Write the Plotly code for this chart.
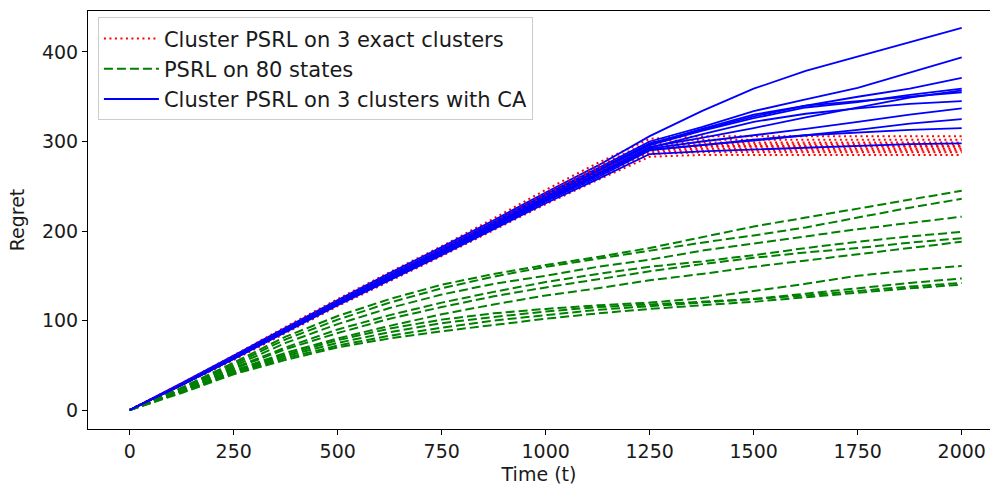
import plotly.graph_objects as go

# time grid (t)
t_grid = [0, 125, 250, 375, 500, 625, 750, 875, 1000, 1125, 1250,
          1375, 1500, 1625, 1750, 1875, 2000]

# Cluster PSRL on 3 exact clusters (red, dotted)
red_runs = [
    [0, 30, 61, 93, 124, 154, 183, 214, 246, 276, 303, 306, 306, 306, 306, 306, 306],
    [0, 29, 60, 91, 122, 151, 180, 210, 242, 272, 300, 302, 302, 302, 302, 302, 302],
    [0, 29, 59, 90, 121, 150, 179, 209, 240, 269, 297, 299, 299, 299, 299, 299, 299],
    [0, 29, 59, 90, 120, 149, 178, 208, 239, 268, 295, 297, 297, 297, 297, 297, 297],
    [0, 29, 58, 89, 119, 148, 177, 207, 237, 266, 293, 295, 295, 295, 295, 295, 295],
    [0, 29, 58, 89, 119, 148, 176, 206, 236, 265, 292, 294, 294, 294, 294, 294, 294],
    [0, 28, 58, 88, 118, 147, 175, 205, 235, 263, 290, 292, 292, 292, 292, 292, 292],
    [0, 28, 57, 88, 118, 146, 174, 204, 234, 262, 288, 290, 290, 290, 290, 290, 290],
    [0, 28, 57, 87, 117, 145, 173, 203, 232, 260, 286, 288, 288, 288, 288, 288, 288],
    [0, 28, 56, 86, 116, 144, 172, 201, 230, 257, 283, 285, 285, 285, 285, 285, 285],
]

# PSRL on 80 states (green, dashed)
green_runs = [
    [0, 25, 53, 82, 105, 124, 140, 152, 162, 171, 181, 193, 205, 215, 225, 235, 245],
    [0, 24, 51, 79, 101, 120, 136, 149, 160, 169, 178, 187, 195, 204, 215, 226, 236],
    [0, 23, 49, 75, 96, 114, 129, 141, 150, 160, 168, 178, 186, 194, 202, 209, 216],
    [0, 22, 47, 70, 90, 106, 120, 132, 143, 152, 160, 166, 173, 181, 188, 194, 199],
    [0, 22, 46, 68, 86, 102, 115, 127, 137, 146, 155, 163, 170, 176, 181, 187, 192],
    [0, 21, 44, 64, 80, 94, 107, 118, 128, 136, 145, 152, 160, 167, 174, 181, 188],
    [0, 21, 43, 62, 78, 91, 101, 108, 113, 117, 120, 125, 133, 141, 150, 156, 161],
    [0, 20, 42, 60, 75, 87, 97, 104, 110, 115, 118, 121, 124, 130, 136, 142, 147],
    [0, 20, 41, 58, 72, 83, 92, 100, 106, 112, 116, 120, 124, 128, 133, 138, 142],
    [0, 19, 40, 56, 70, 80, 88, 95, 102, 108, 113, 117, 121, 126, 131, 136, 140],
]

# Cluster PSRL on 3 clusters with CA (blue, solid)
blue_runs = [
    [0, 30, 61, 92, 123, 153, 182, 212, 243, 273, 306, 334, 359, 379, 395, 411, 427],
    [0, 29, 60, 91, 122, 151, 180, 210, 241, 270, 300, 316, 334, 347, 360, 377, 394],
    [0, 29, 59, 90, 121, 150, 179, 209, 240, 268, 298, 313, 328, 340, 350, 359, 371],
    [0, 29, 59, 90, 120, 149, 178, 208, 238, 267, 296, 312, 326, 338, 344, 352, 359],
    [0, 29, 59, 89, 120, 149, 177, 207, 237, 265, 294, 304, 315, 327, 338, 349, 357],
    [0, 29, 59, 90, 120, 149, 178, 207, 238, 267, 297, 314, 330, 340, 345, 350, 355],
    [0, 29, 58, 89, 119, 148, 176, 206, 236, 264, 293, 308, 322, 331, 337, 342, 345],
    [0, 28, 58, 89, 119, 147, 176, 205, 235, 263, 292, 300, 307, 314, 322, 330, 337],
    [0, 28, 58, 88, 118, 147, 175, 204, 234, 262, 291, 296, 301, 307, 313, 320, 325],
    [0, 28, 57, 88, 118, 146, 174, 203, 233, 260, 290, 296, 302, 307, 310, 313, 315],
    [0, 28, 57, 87, 117, 145, 173, 202, 231, 258, 286, 289, 291, 293, 295, 297, 298],
]

labels = ["Cluster PSRL on 3 exact clusters", "PSRL on 80 states",
          "Cluster PSRL on 3 clusters with CA"]
x_ticks = [0, 250, 500, 750, 1000, 1250, 1500, 1750, 2000]
y_ticks = [0, 100, 200, 300, 400]

styles = [
    dict(color="#ff0000", width=2, dash="2px,3.5px"),
    dict(color="#008000", width=2, dash="9px,4px"),
    dict(color="#0000ff", width=1.8, dash="solid"),
]
groups = [red_runs, green_runs, blue_runs]

fig = go.Figure()
n = max(len(g) for g in groups)
for i in range(n):
    for gi, g in enumerate(groups):
        if i < len(g):
            fig.add_trace(go.Scatter(
                x=t_grid, y=g[i], mode="lines", line=styles[gi],
                name=labels[gi], legendgroup=labels[gi],
                showlegend=(i == 0), hoverinfo="skip"))

font_family = "DejaVu Sans"
fig.update_layout(
    width=990, height=485,
    margin=dict(l=88, r=0, t=11, b=56),
    paper_bgcolor="white", plot_bgcolor="white",
    font=dict(family=font_family, size=19, color="#1a1a1a"),
    showlegend=True,
    legend=dict(
        x=0.011, y=0.985, xanchor="left", yanchor="top",
        bgcolor="rgba(255,255,255,0.85)", bordercolor="#cccccc", borderwidth=1,
        font=dict(family=font_family, size=21, color="#1a1a1a"),
        traceorder="normal", itemwidth=55,
    ),
    xaxis=dict(
        range=[-100.2, 2068], tickvals=x_ticks, ticktext=[str(v) for v in x_ticks],
        showgrid=False, zeroline=False, showline=True, linecolor="black",
        linewidth=1, mirror=True, ticks="outside", ticklen=5, tickcolor="black",
        tickfont=dict(size=19),
        title=dict(text="Time (t)", font=dict(size=19), standoff=8),
    ),
    yaxis=dict(
        range=[-21.2, 445.8], tickvals=y_ticks, ticktext=[str(v) for v in y_ticks],
        showgrid=False, zeroline=False, showline=True, linecolor="black",
        linewidth=1, mirror=False, ticks="outside", ticklen=5, tickcolor="black",
        tickfont=dict(size=19),
        title=dict(text="Regret", font=dict(size=19), standoff=12),
    ),
)

fig.write_html("out.html")
